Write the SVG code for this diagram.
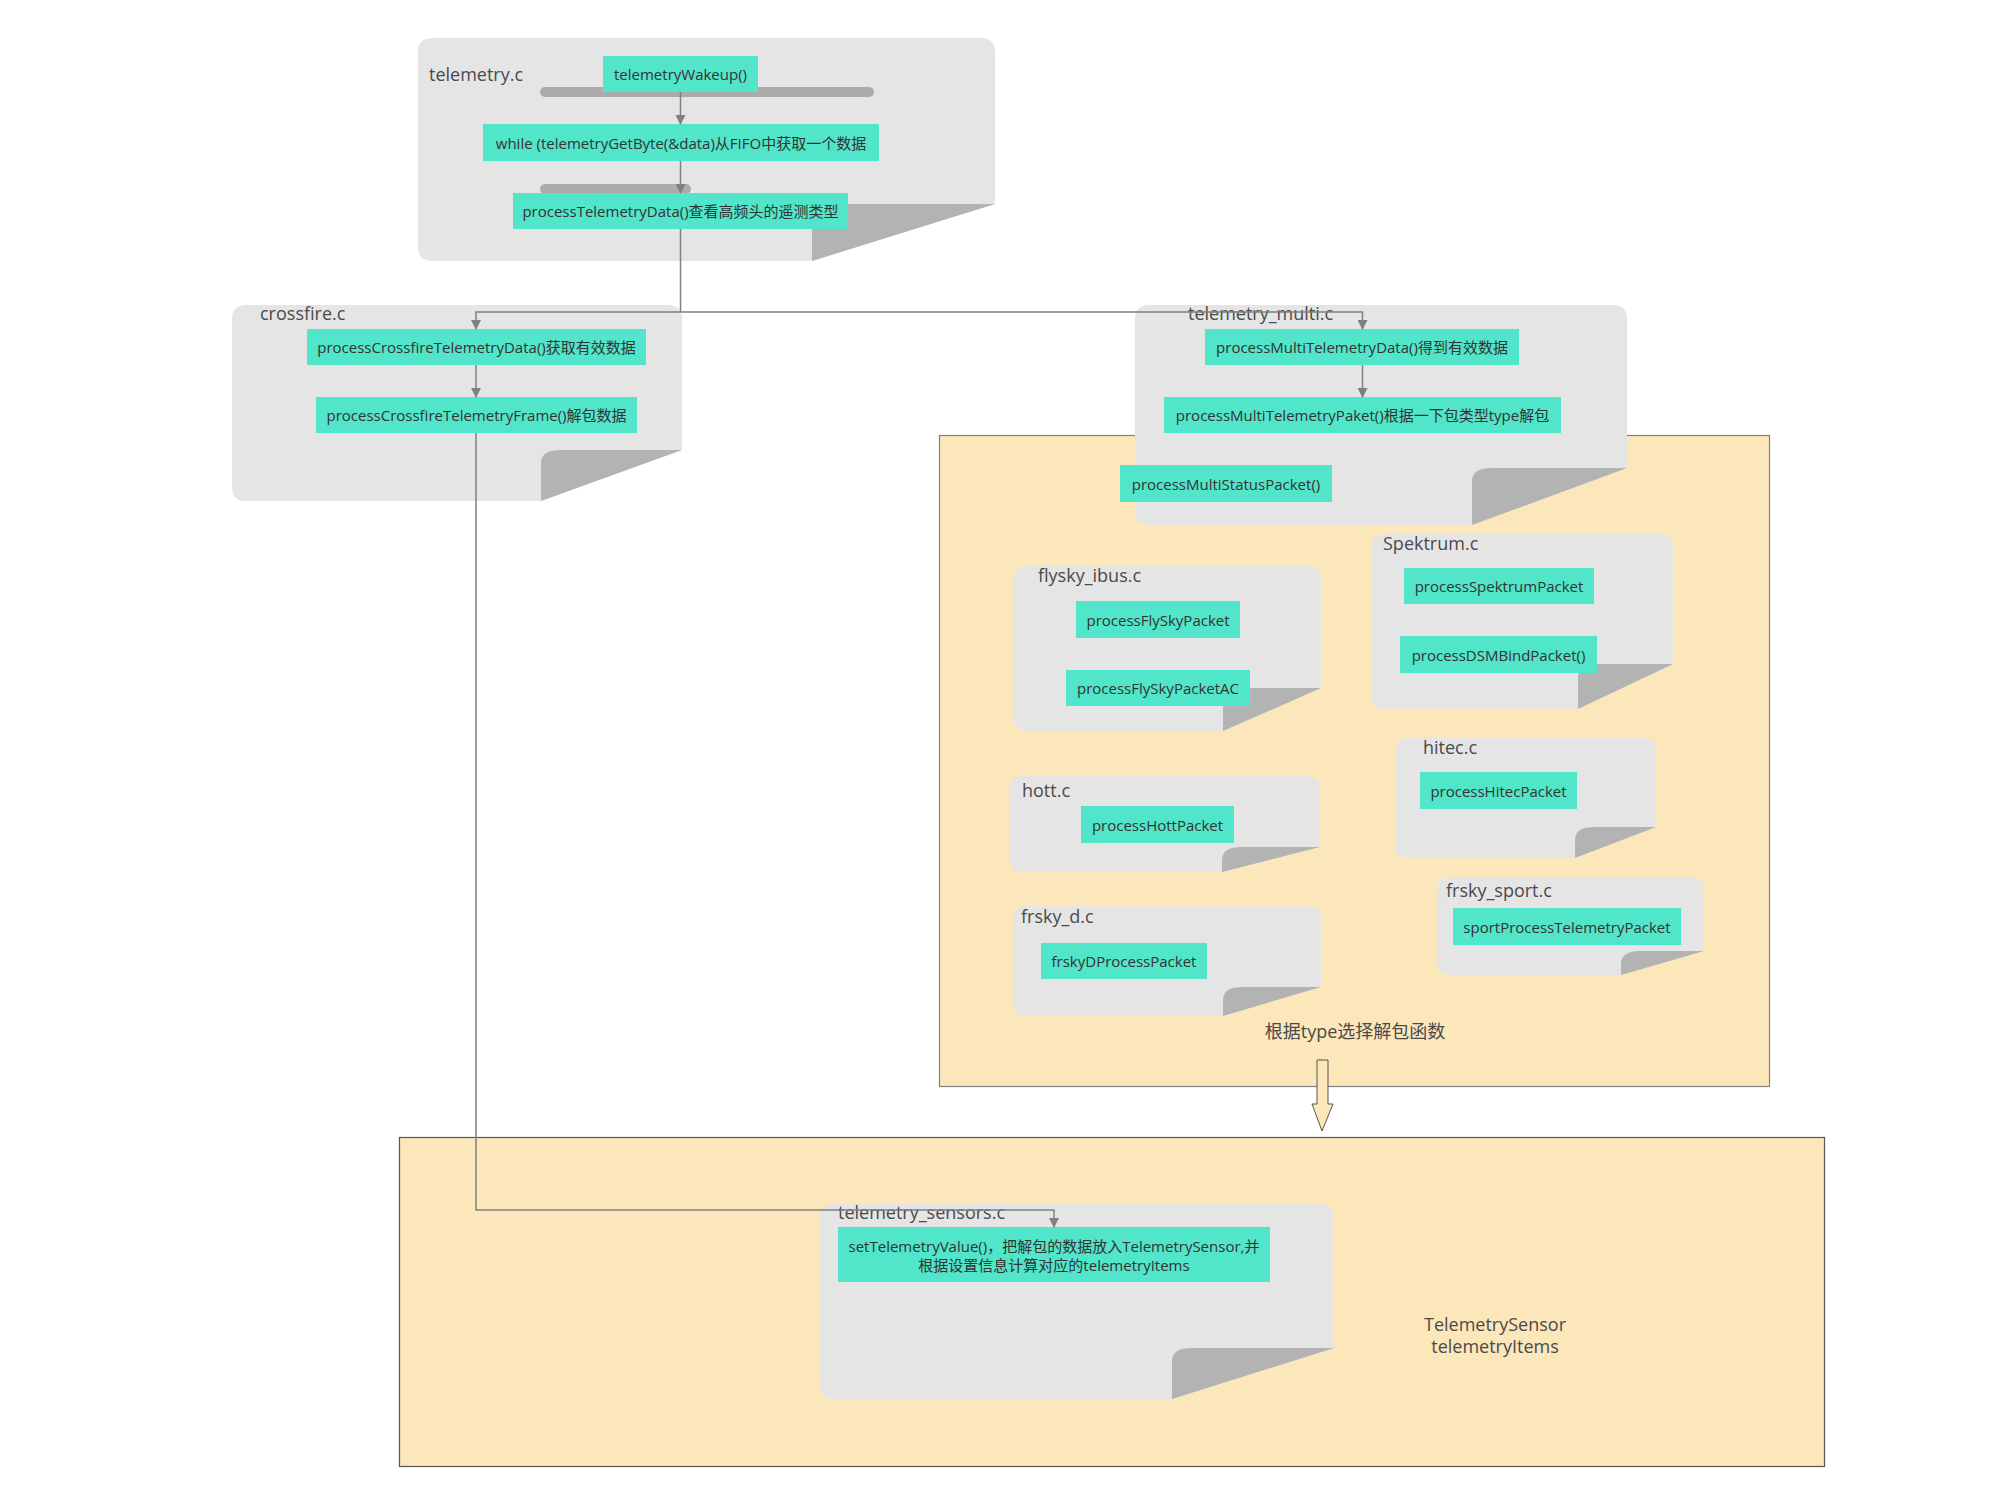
<svg xmlns="http://www.w3.org/2000/svg" width="2000" height="1500" viewBox="0 0 2000 1500">
<defs>
<style>
.page{fill:#E5E5E5}
.fold{fill:#B3B3B3}
.bar{fill:#ABABAB}
.node{fill:#51E5C9}
.zone{fill:#FCE7BB;stroke:#808080;stroke-width:1.2}
.nt{font-family:"Open Sans","Noto Sans CJK SC",sans-serif;font-size:15px;fill:#333;text-anchor:middle;dominant-baseline:central}
.lbl{font-family:"Open Sans","Noto Sans CJK SC",sans-serif;font-size:18px;fill:#4a4a4a}
.big{font-family:"Open Sans","Noto Sans CJK SC",sans-serif;font-size:18px;fill:#4a4a4a;text-anchor:middle}
.conn{fill:none;stroke:#808080;stroke-width:1.5}
.arr{fill:none;stroke:#808080;stroke-width:1.5;marker-end:url(#ah)}
</style>
<marker id="ah" markerWidth="10" markerHeight="10" refX="9" refY="5" orient="auto" markerUnits="userSpaceOnUse">
<path d="M0,0 L10,5 L0,10 Z" fill="#808080"/>
</marker>
</defs>
<rect width="2000" height="1500" fill="#FFFFFF"/>

<!-- zones -->
<g id="zone-decode">
<rect class="zone" x="939.5" y="435.5" width="830" height="651"/>
<text class="big" x="1355" y="1038">根据type选择解包函数</text>
</g>
<g id="zone-sensors">
<rect class="zone" x="399.5" y="1137.5" width="1425" height="329" style="stroke:#555"/>
<text class="big" x="1495" y="1331">TelemetrySensor</text>
<text class="big" x="1495" y="1353">telemetryItems</text>
</g>
<g id="block-arrow">
<path d="M1317,1060 H1328 V1104 H1333 L1322,1131 L1312,1104 H1317 Z" fill="#FCE7BB" stroke="#555" stroke-width="1"/>
</g>

<!-- telemetry.c -->
<g id="telemetry-c">
<path class="page" d="M432,38 H981 Q995,38 995,52 V204 L812,261 H432 Q418,261 418,247 V52 Q418,38 432,38 Z"/>
<path class="fold" d="M812,261 V217 Q812,204 832,204 H995 Z"/>
<text class="lbl" x="429" y="81">telemetry.c</text>
<rect class="bar" x="540" y="87" width="334" height="10" rx="5"/>
<rect class="bar" x="540" y="184" width="151" height="10" rx="5"/>
<g id="n-wakeup"><rect class="node" x="603" y="56" width="155" height="36"/><text class="nt" x="680.5" y="74">telemetryWakeup()</text></g>
<g id="n-getbyte"><rect class="node" x="483" y="124" width="396" height="37"/><text class="nt" x="681" y="142.5">while (telemetryGetByte(&amp;data)从FIFO中获取一个数据</text></g>
<g id="n-processdata"><rect class="node" x="513" y="193" width="335" height="36"/><text class="nt" x="680.5" y="211">processTelemetryData()查看高频头的遥测类型</text></g>
</g>

<!-- crossfire.c -->
<g id="crossfire-c">
<path class="page" d="M246,305 H668 Q682,305 682,319 V450 L541,501 H246 Q232,501 232,487 V319 Q232,305 246,305 Z"/>
<path class="fold" d="M541,501 V463 Q541,450 561,450 H682 Z"/>
<text class="lbl" x="260" y="320">crossfire.c</text>
<g id="n-crsf-data"><rect class="node" x="307" y="329" width="339" height="36"/><text class="nt" x="476.5" y="347">processCrossfireTelemetryData()获取有效数据</text></g>
<g id="n-crsf-frame"><rect class="node" x="316" y="397" width="321" height="36"/><text class="nt" x="476.5" y="415">processCrossfireTelemetryFrame()解包数据</text></g>
</g>

<!-- telemetry_multi.c -->
<g id="telemetry-multi-c">
<path class="page" d="M1149,305 H1613 Q1627,305 1627,319 V468 L1472,525 H1149 Q1135,525 1135,511 V319 Q1135,305 1149,305 Z"/>
<path class="fold" d="M1472,525 V481 Q1472,468 1492,468 H1627 Z"/>
<text class="lbl" x="1188" y="320">telemetry_multi.c</text>
<g id="n-multi-data"><rect class="node" x="1205" y="329" width="314" height="36"/><text class="nt" x="1362" y="347">processMultiTelemetryData()得到有效数据</text></g>
<g id="n-multi-paket"><rect class="node" x="1164" y="397" width="397" height="36"/><text class="nt" x="1362.5" y="415">processMultiTelemetryPaket()根据一下包类型type解包</text></g>
<g id="n-multi-status"><rect class="node" x="1120" y="465" width="212" height="37"/><text class="nt" x="1226" y="483.5">processMultiStatusPacket()</text></g>
</g>

<!-- flysky_ibus.c -->
<g id="flysky-ibus-c">
<path class="page" d="M1027,566 H1307 Q1321,566 1321,580 V688 L1223,731 H1027 Q1013,731 1013,717 V580 Q1013,566 1027,566 Z"/>
<path class="fold" d="M1223,731 V701 Q1223,688 1243,688 H1321 Z"/>
<text class="lbl" x="1038" y="582">flysky_ibus.c</text>
<g id="n-flysky"><rect class="node" x="1076" y="601" width="164" height="37"/><text class="nt" x="1158" y="619.5">processFlySkyPacket</text></g>
<g id="n-flysky-ac"><rect class="node" x="1066" y="670" width="184" height="36"/><text class="nt" x="1158" y="688">processFlySkyPacketAC</text></g>
</g>

<!-- Spektrum.c -->
<g id="spektrum-c">
<path class="page" d="M1385,534 H1659 Q1673,534 1673,548 V664 L1578,709 H1385 Q1371,709 1371,695 V548 Q1371,534 1385,534 Z"/>
<path class="fold" d="M1578,709 V677 Q1578,664 1598,664 H1673 Z"/>
<text class="lbl" x="1383" y="550">Spektrum.c</text>
<g id="n-spektrum"><rect class="node" x="1404" y="568" width="190" height="36"/><text class="nt" x="1499" y="586">processSpektrumPacket</text></g>
<g id="n-dsmbind"><rect class="node" x="1400" y="636" width="197" height="37"/><text class="nt" x="1498.5" y="654.5">processDSMBindPacket()</text></g>
</g>

<!-- hitec.c -->
<g id="hitec-c">
<path class="page" d="M1409,738 H1642 Q1656,738 1656,752 V827 L1575,858 H1409 Q1395,858 1395,844 V752 Q1395,738 1409,738 Z"/>
<path class="fold" d="M1575,858 V840 Q1575,827 1595,827 H1656 Z"/>
<text class="lbl" x="1423" y="754">hitec.c</text>
<g id="n-hitec"><rect class="node" x="1420" y="772" width="157" height="37"/><text class="nt" x="1498.5" y="790.5">processHitecPacket</text></g>
</g>

<!-- hott.c -->
<g id="hott-c">
<path class="page" d="M1023,776 H1306 Q1320,776 1320,790 V847 L1222,872 H1023 Q1009,872 1009,858 V790 Q1009,776 1023,776 Z"/>
<path class="fold" d="M1222,872 V860 Q1222,847 1242,847 H1320 Z"/>
<text class="lbl" x="1022" y="797">hott.c</text>
<g id="n-hott"><rect class="node" x="1081" y="806" width="153" height="37"/><text class="nt" x="1157.5" y="824.5">processHottPacket</text></g>
</g>

<!-- frsky_sport.c -->
<g id="frsky-sport-c">
<path class="page" d="M1451,877 H1690 Q1704,877 1704,891 V951 L1621,975 H1451 Q1437,975 1437,961 V891 Q1437,877 1451,877 Z"/>
<path class="fold" d="M1621,975 V964 Q1621,951 1641,951 H1704 Z"/>
<text class="lbl" x="1446" y="897">frsky_sport.c</text>
<g id="n-sport"><rect class="node" x="1453" y="908" width="228" height="37"/><text class="nt" x="1567" y="926.5">sportProcessTelemetryPacket</text></g>
</g>

<!-- frsky_d.c -->
<g id="frsky-d-c">
<path class="page" d="M1027,906 H1307 Q1321,906 1321,920 V987 L1223,1016 H1027 Q1013,1016 1013,1002 V920 Q1013,906 1027,906 Z"/>
<path class="fold" d="M1223,1016 V1000 Q1223,987 1243,987 H1321 Z"/>
<text class="lbl" x="1021" y="923">frsky_d.c</text>
<g id="n-frskyd"><rect class="node" x="1041" y="943" width="166" height="36"/><text class="nt" x="1124" y="961">frskyDProcessPacket</text></g>
</g>

<!-- telemetry_sensors.c -->
<g id="telemetry-sensors-c">
<path class="page" d="M834,1204 H1320 Q1334,1204 1334,1218 V1348 L1172,1399 H834 Q820,1399 820,1385 V1218 Q820,1204 834,1204 Z"/>
<path class="fold" d="M1172,1399 V1361 Q1172,1348 1192,1348 H1334 Z"/>
<text class="lbl" x="838" y="1219">telemetry_sensors.c</text>
<g id="n-setvalue"><rect class="node" x="838" y="1227" width="432" height="55"/>
<text class="nt" x="1054" y="1246">setTelemetryValue()，把解包的数据放入TelemetrySensor,并</text>
<text class="nt" x="1054" y="1265">根据设置信息计算对应的telemetryItems</text></g>
</g>

<!-- connectors -->
<g id="connectors">
<line class="arr" x1="680.5" y1="92" x2="680.5" y2="124"/>
<line class="arr" x1="680.5" y1="161" x2="680.5" y2="193"/>
<line class="conn" x1="680.5" y1="229" x2="680.5" y2="312"/>
<polyline class="arr" points="680.5,312 476,312 476,329"/>
<polyline class="arr" points="680.5,312 1362.5,312 1362.5,329"/>
<line class="arr" x1="476" y1="365" x2="476" y2="397"/>
<line class="arr" x1="1362.5" y1="365" x2="1362.5" y2="397"/>
<polyline class="arr" points="476,433 476,1210 1054,1210 1054,1227"/>
</g>
</svg>
